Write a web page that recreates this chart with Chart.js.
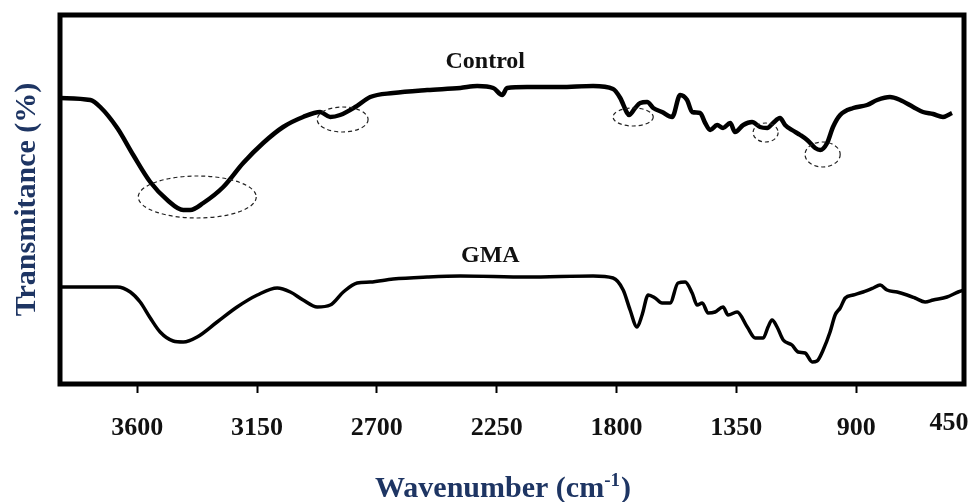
<!DOCTYPE html>
<html><head><meta charset="utf-8">
<script src="https://cdn.jsdelivr.net/npm/chart.js@4.4.1/dist/chart.umd.min.js"></script>
<style>html,body{margin:0;padding:0;background:#fff}canvas{display:block}</style>
</head><body>
<canvas id="c" width="973" height="502"></canvas>
<script>
// Tick labels on the wavenumber axis
const xTicks = [3600, 3150, 2700, 2250, 1800, 1350, 900];
const edgeTickLabel = '450';

// Control spectrum (wavenumber, transmittance in arbitrary units)
const wnControl = [3890,3776,3739,3675,3615,3551,3487,3427,3401,3352,3277,3202,3127,3052,2977,2913,2875,2838,2781,2725,2639,2511,2387,2323,2263,2229,2211,2136,2012,1888,1813,1786,1760,1753,1730,1711,1685,1662,1629,1591,1561,1535,1516,1486,1467,1448,1422,1400,1373,1355,1324,1291,1261,1234,1212,1186,1167,1141,1110,1084,1054,1035,1009,987,960,911,859,821,773,735,686,649,611,574,540];
const tControl  = [286,284,277,256,229,202,184,174,174,181,197,221,241,257,267,272,267,269,277,287,291,294,296,298,296,289,296,297,297,298,295,286,271,269,276,281,282,276,272,267,289,284,272,271,261,254,259,256,261,252,259,262,257,256,261,266,259,254,249,244,236,234,241,257,269,276,279,284,287,284,277,272,270,267,271];

// GMA spectrum
const wnGMA = [3890,3675,3626,3589,3551,3514,3465,3427,3375,3300,3225,3149,3074,3025,2977,2924,2875,2826,2774,2725,2639,2511,2387,2136,1888,1813,1775,1749,1723,1704,1681,1655,1629,1599,1569,1542,1516,1497,1478,1456,1430,1400,1381,1347,1309,1279,1249,1231,1216,1197,1174,1141,1118,1092,1065,1047,1024,998,979,960,941,911,874,836,810,784,746,709,679,641,611,559,517,495];
const tGMA  = [97,97,92,82,66,52,43,42,47,62,77,89,96,92,84,77,79,92,101,102,105,107,108,107,108,106,94,74,57,69,89,86,81,81,101,102,91,79,81,71,72,77,69,72,57,46,46,57,64,57,44,39,32,31,22,23,34,52,69,76,86,89,92,96,99,94,92,89,86,82,84,87,92,94];

// Series name labels (placed in data space)
const seriesNames = ['Control', 'GMA'];
const nameWn = [2293, 2274];
const nameT  = [322, 128];

// Dashed ellipse annotations on the Control spectrum (data-space bounds)
const ellWnHigh = [3596, 2924, 1813, 1287, 1092];
const ellWnLow  = [3153, 2733, 1662, 1193, 960];
const ellTHigh  = [208, 277, 276, 261, 242];
const ellTLow   = [166, 252, 258, 242, 217];

const serif = '"Liberation Serif", "Times New Roman", serif';
const navy = '#1e3563';

const decor = {
  id: 'decor',
  afterDatasetsDraw(chart) {
    const { ctx, chartArea: a, scales: { x, y } } = chart;
    ctx.save();
    // dashed ellipses
    ctx.setLineDash([4, 3]);
    ctx.lineWidth = 1.2;
    ctx.strokeStyle = '#222';
    for (let i = 0; i < ellWnHigh.length; i++) {
      const x1 = x.getPixelForValue(ellWnHigh[i]), x2 = x.getPixelForValue(ellWnLow[i]);
      const y1 = y.getPixelForValue(ellTHigh[i]), y2 = y.getPixelForValue(ellTLow[i]);
      ctx.beginPath();
      ctx.ellipse((x1 + x2) / 2, (y1 + y2) / 2, Math.abs(x2 - x1) / 2, Math.abs(y2 - y1) / 2, 0, 0, Math.PI * 2);
      ctx.stroke();
    }
    ctx.setLineDash([]);
    // series names
    ctx.fillStyle = '#111';
    ctx.textAlign = 'center';
    ctx.textBaseline = 'middle';
    ctx.font = 'bold 24px ' + serif;
    for (let i = 0; i < seriesNames.length; i++) {
      ctx.fillText(seriesNames[i], x.getPixelForValue(nameWn[i]), y.getPixelForValue(nameT[i]));
    }
    // frame
    ctx.lineWidth = 5;
    ctx.strokeStyle = '#000';
    ctx.strokeRect(a.left, a.top, a.right - a.left, a.bottom - a.top);
    // edge tick label
    ctx.font = 'bold 26px ' + serif;
    ctx.fillStyle = '#111';
    ctx.fillText(edgeTickLabel, a.right - 15, a.bottom + 39);
    // x title with superscript
    ctx.fillStyle = navy;
    ctx.textAlign = 'left';
    ctx.textBaseline = 'alphabetic';
    const mainFont = 'bold 30px ' + serif, supFont = 'bold 19px ' + serif;
    const p1 = 'Wavenumber (cm', p2 = '-1', p3 = ')';
    ctx.font = mainFont; const w1 = ctx.measureText(p1).width, w3 = ctx.measureText(p3).width;
    ctx.font = supFont; const w2 = ctx.measureText(p2).width;
    const total = w1 + w2 + 1 + w3;
    let sx = (a.left + a.right) / 2 - 9 - total / 2;
    const base = 497;
    ctx.font = mainFont; ctx.fillText(p1, sx, base);
    ctx.font = supFont; ctx.fillText(p2, sx + w1, base - 11);
    ctx.font = mainFont; ctx.fillText(p3, sx + w1 + w2 + 1, base);
    // y title
    ctx.translate(27, (a.top + a.bottom) / 2);
    ctx.rotate(-Math.PI / 2);
    ctx.textAlign = 'center';
    ctx.textBaseline = 'middle';
    ctx.font = 'bold 30px ' + serif;
    ctx.fillText('Transmitance (%)', 0, 0);
    ctx.restore();
  }
};

const toPts = (xs, ys) => xs.map((v, i) => ({ x: v, y: ys[i] }));

new Chart(document.getElementById('c'), {
  type: 'line',
  data: {
    datasets: [
      { label: seriesNames[0], data: toPts(wnControl, tControl), borderColor: '#000', borderWidth: 4.5, pointRadius: 0, cubicInterpolationMode: 'monotone', fill: false },
      { label: seriesNames[1], data: toPts(wnGMA, tGMA), borderColor: '#000', borderWidth: 3.5, pointRadius: 0, cubicInterpolationMode: 'monotone', fill: false }
    ]
  },
  options: {
    responsive: false,
    animation: false,
    devicePixelRatio: 1,
    layout: { padding: { left: 60, right: 9, top: 15, bottom: 0 } },
    plugins: { legend: { display: false }, tooltip: { enabled: false } },
    scales: {
      x: {
        type: 'linear',
        reverse: true,
        min: 495,
        max: 3890,
        afterBuildTicks: (s) => { s.ticks = xTicks.map(v => ({ value: v })); },
        afterFit: (s) => { s.height = 118; },
        ticks: {
          autoSkip: false, maxRotation: 0, padding: 20, color: '#111',
          font: { family: serif, size: 26, weight: 'bold' },
          callback: (v) => String(v)
        },
        grid: { drawOnChartArea: false, drawTicks: true, tickLength: 9, tickWidth: 2, tickColor: '#000' },
        border: { display: false }
      },
      y: { display: false, min: 0, max: 369 }
    }
  },
  plugins: [decor]
});
</script>
</body></html>
